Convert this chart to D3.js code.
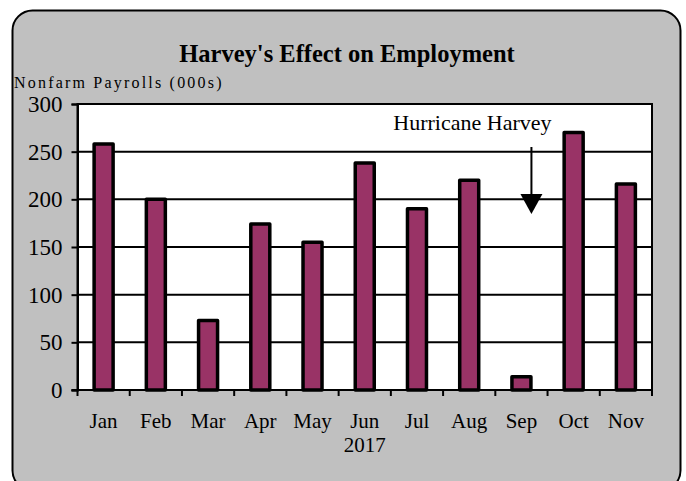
<!DOCTYPE html>
<html>
<head>
<meta charset="utf-8">
<script src="https://cdn.jsdelivr.net/npm/d3@7"></script>
<style>
  html, body { margin: 0; padding: 0; background: #ffffff; }
  svg { display: block; }
</style>
</head>
<body>
<div id="chart"></div>
<script>
// Harvey's Effect on Employment - monthly nonfarm payrolls, 2017

// === DATA ===
const months = ['Jan', 'Feb', 'Mar', 'Apr', 'May', 'Jun', 'Jul', 'Aug', 'Sep', 'Oct', 'Nov'];
const payrolls = [258, 200, 73, 174, 155, 238, 190, 220, 14, 270, 216];
const yTicks = [0, 50, 100, 150, 200, 250, 300];
const yearLabel = '2017';
const titleText = "Harvey's Effect on Employment";
const yAxisTitle = 'Nonfarm Payrolls (000s)';
const noteText = 'Hurricane Harvey';
const noteMonth = 'Sep';

// === LAYOUT ===
const width = 686, height = 481;
const plot = { left: 77.5, right: 652, top: 104, bottom: 390 };
const serif = '"Liberation Serif", "Times New Roman", serif';

const svg = d3.select('#chart')
    .append('svg')
    .attr('width', width)
    .attr('height', height);

// grey rounded frame
svg.append('rect')
    .attr('x', 12.5)
    .attr('y', 10.5)
    .attr('width', 668)
    .attr('height', 480)
    .attr('rx', 20)
    .attr('fill', '#c0c0c0')
    .attr('stroke', '#000')
    .attr('stroke-width', 2);

const x = d3.scaleBand()
    .domain(months)
    .range([plot.left, plot.right])
    .paddingInner(0)
    .paddingOuter(0);

const y = d3.scaleLinear()
    .domain([0, 300])
    .range([plot.bottom, plot.top]);

// plot background
svg.append('rect')
    .attr('x', plot.left)
    .attr('y', plot.top)
    .attr('width', plot.right - plot.left)
    .attr('height', plot.bottom - plot.top)
    .attr('fill', '#fff')
    .attr('stroke', '#000')
    .attr('stroke-width', 2);

// gridlines
svg.append('g')
    .selectAll('line')
    .data(yTicks.filter(d => d > 0))
    .enter()
    .append('line')
    .attr('x1', plot.left)
    .attr('x2', plot.right)
    .attr('y1', d => y(d))
    .attr('y2', d => y(d))
    .attr('stroke', '#000')
    .attr('stroke-width', 2);

// bars
const barW = 19;
svg.append('g')
    .selectAll('rect')
    .data(months)
    .enter()
    .append('rect')
    .attr('x', d => x(d) + x.bandwidth() / 2 - barW / 2)
    .attr('y', (d, i) => y(payrolls[i]))
    .attr('width', barW)
    .attr('height', (d, i) => y(0) - y(payrolls[i]))
    .attr('fill', '#993366')
    .attr('stroke', '#000')
    .attr('stroke-width', 3.5)
    .attr('stroke-linejoin', 'round');

// y axis
const yAxis = svg.append('g')
    .attr('transform', `translate(${plot.left},0)`)
    .call(d3.axisLeft(y).tickValues(yTicks).tickSize(6).tickPadding(9).tickFormat(d3.format('d')));
yAxis.select('.domain').attr('stroke', '#000').attr('stroke-width', 2);
yAxis.selectAll('.tick line').attr('stroke', '#000').attr('stroke-width', 2);
yAxis.selectAll('.tick text')
    .attr('font-family', serif)
    .attr('font-size', 23)
    .attr('fill', '#000');

// x axis: ticks at band boundaries
const xAxis = svg.append('g')
    .attr('transform', `translate(0,${plot.bottom})`);
xAxis.append('line')
    .attr('x1', plot.left - 6)
    .attr('x2', plot.right)
    .attr('stroke', '#000')
    .attr('stroke-width', 2);
xAxis.selectAll('.xtick')
    .data(months.concat(['end']))
    .enter()
    .append('line')
    .attr('class', 'xtick')
    .attr('x1', (d, i) => plot.left + i * x.bandwidth())
    .attr('x2', (d, i) => plot.left + i * x.bandwidth())
    .attr('y1', 0)
    .attr('y2', 6)
    .attr('stroke', '#000')
    .attr('stroke-width', 2);
xAxis.selectAll('.xlabel')
    .data(months)
    .enter()
    .append('text')
    .attr('class', 'xlabel')
    .attr('x', d => x(d) + x.bandwidth() / 2)
    .attr('y', 38)
    .attr('text-anchor', 'middle')
    .attr('font-family', serif)
    .attr('font-size', 21)
    .text(d => d);
xAxis.append('text')
    .attr('x', (plot.left + plot.right) / 2)
    .attr('y', 62)
    .attr('text-anchor', 'middle')
    .attr('font-family', serif)
    .attr('font-size', 21)
    .text(yearLabel);

// titles
svg.append('text')
    .attr('x', 347)
    .attr('y', 62)
    .attr('text-anchor', 'middle')
    .attr('font-family', serif)
    .attr('font-weight', 'bold')
    .attr('font-size', 24.5)
    .text(titleText);

svg.append('text')
    .attr('x', 14)
    .attr('y', 88)
    .attr('font-family', serif)
    .attr('font-size', 16)
    .attr('letter-spacing', 2.2)
    .text(yAxisTitle);

// hurricane annotation
const ax = x(noteMonth) + x.bandwidth() / 2 + 10;
svg.append('text')
    .attr('x', ax - 59)
    .attr('y', 130)
    .attr('text-anchor', 'middle')
    .attr('font-family', serif)
    .attr('font-size', 22)
    .text(noteText);
svg.append('line')
    .attr('x1', ax)
    .attr('x2', ax)
    .attr('y1', 147)
    .attr('y2', 196)
    .attr('stroke', '#000')
    .attr('stroke-width', 2);
svg.append('path')
    .attr('d', `M${ax - 11},194 L${ax + 11},194 L${ax},214 Z`)
    .attr('fill', '#000');
</script>
</body>
</html>
